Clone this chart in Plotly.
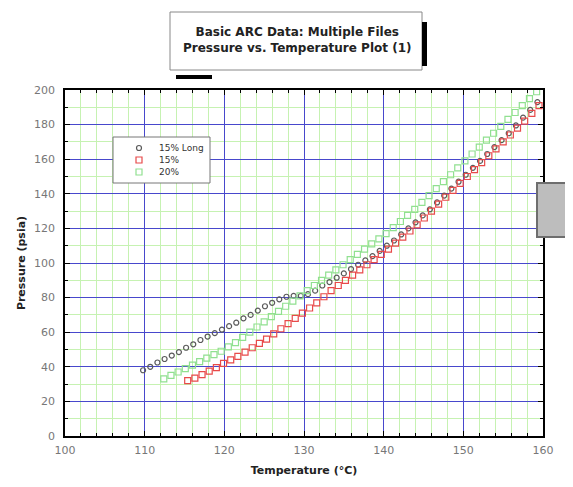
import plotly.graph_objects as go

# ---- data ----
long15_T = [109.8, 110.7, 111.6, 112.5, 113.4, 114.3, 115.2, 116.1, 117.0, 117.9, 118.8, 119.7,
            120.6, 121.5, 122.4, 123.3, 124.2, 125.1, 126.0, 126.9, 127.8, 128.7, 129.6, 130.5,
            131.4, 132.3, 133.2, 134.1, 135.0, 135.9, 136.8, 137.7, 138.6, 139.5, 140.4, 141.3,
            142.2, 143.1, 144.0, 144.9, 145.8, 146.7, 147.6, 148.5, 149.4, 150.3, 151.2, 152.1,
            153.0, 153.9, 154.8, 155.7, 156.6, 157.5, 158.4, 159.3, 160.2, 160.6]
long15_P = [38, 40, 42.5, 44.5, 46.5, 48.5, 51, 53, 55.5, 57.5, 59.5, 61.5,
            63.5, 65.5, 68, 70, 72.5, 75, 77, 79, 80.5, 81, 81, 82,
            84, 87, 89, 91.5, 94, 96.5, 99, 101.5, 104, 107, 110, 113,
            116.5, 120, 123.5, 127.5, 131, 135, 139, 143, 147, 151, 155, 159,
            163, 167, 171, 175, 179.5, 184, 188.5, 193, 197.5, 209]

p15_T = [115.4, 116.3, 117.2, 118.1, 119.0, 119.9, 120.8, 121.7, 122.6, 123.5, 124.4, 125.3,
         126.2, 127.1, 128.0, 128.9, 129.8, 130.7, 131.6, 132.5, 133.4, 134.3, 135.2, 136.1,
         137.0, 137.9, 138.8, 139.7, 140.6, 141.5, 142.4, 143.3, 144.2, 145.1, 146.0, 146.9,
         147.8, 148.7, 149.6, 150.5, 151.4, 152.3, 153.2, 154.1, 155.0, 155.9, 156.8, 157.7,
         158.6, 159.5, 160.4]
p15_P = [32, 33.5, 35.5, 37.5, 39.5, 42, 44, 46, 48.5, 51, 53.5, 56,
         59, 62, 65, 68, 71, 74, 77, 80.5, 84, 87, 90, 93,
         96, 99, 102, 105, 108, 111.5, 115, 118.5, 122, 126, 130, 134,
         138, 142, 146, 150, 154, 158, 162, 166, 170, 174, 178, 182,
         186.5, 191, 196]

p20_T = [112.4, 113.3, 114.2, 115.1, 116.0, 116.9, 117.8, 118.7, 119.6, 120.5, 121.4, 122.3,
         123.2, 124.1, 125.0, 125.9, 126.8, 127.7, 128.6, 129.5, 130.4, 131.3, 132.2, 133.1,
         134.0, 134.9, 135.8, 136.7, 137.6, 138.5, 139.4, 140.3, 141.2, 142.1, 143.0, 143.9,
         144.8, 145.7, 146.6, 147.5, 148.4, 149.3, 150.2, 151.1, 152.0, 152.9, 153.8, 154.7,
         155.6, 156.5, 157.4, 158.3, 159.2, 159.9]
p20_P = [33, 35, 37, 39, 41, 43, 45, 47, 49, 51.5, 54, 57,
         60, 63, 66, 69, 72, 75, 78, 81, 84, 87, 90, 93,
         96, 99, 102, 105, 108, 111, 114, 117, 120.5, 124, 127.5, 131,
         135, 139, 143, 147, 151, 155, 159, 163, 167, 171, 175, 179,
         183, 187, 191, 195, 199, 203]

series_names = ["15% Long", "15%", "20%"]
series_colors = ["#5a5a5a", "#e84a4a", "#90e090"]
x_ticks = [100, 110, 120, 130, 140, 150, 160]
y_ticks = [0, 20, 40, 60, 80, 100, 120, 140, 160, 180, 200]

FONT = "DejaVu Sans, Verdana, sans-serif"
MAJOR = "#4848cc"
MINOR = "#c6f2b2"

fig = go.Figure()
fig.add_trace(go.Scatter(x=long15_T, y=long15_P, mode="markers", name=series_names[0],
                         cliponaxis=False,
                         marker=dict(symbol="circle-open", size=5, color=series_colors[0],
                                     line=dict(width=1.2, color=series_colors[0]))))
fig.add_trace(go.Scatter(x=p15_T, y=p15_P, mode="markers", name=series_names[1],
                         cliponaxis=False,
                         marker=dict(symbol="square-open", size=6, color=series_colors[1],
                                     line=dict(width=1.2, color=series_colors[1]))))
fig.add_trace(go.Scatter(x=p20_T, y=p20_P, mode="markers", name=series_names[2],
                         cliponaxis=False,
                         marker=dict(symbol="square-open", size=6, color=series_colors[2],
                                     line=dict(width=1.2, color=series_colors[2]))))

axis_common = dict(
    showline=True, linecolor="black", linewidth=1.5, mirror="allticks",
    ticks="inside", ticklen=5, tickcolor="black", tickwidth=1,
    showgrid=True, gridcolor=MAJOR, gridwidth=1.2, zeroline=False,
    automargin=False,
    tickfont=dict(family=FONT, size=11, color="#777777"),
)

fig.update_xaxes(**axis_common, range=[100, 160], tickvals=x_ticks,
                 ticktext=[str(v) for v in x_ticks],
                 minor=dict(dtick=2, showgrid=True, gridcolor=MINOR, gridwidth=1,
                            ticks="inside", ticklen=3, tickcolor="black"),
                 ticklabelstandoff=3,
                 title=dict(text="<b>Temperature (°C)</b>", standoff=10,
                            font=dict(family=FONT, size=11, color="#222222")))
fig.update_yaxes(**axis_common, range=[0, 200], tickvals=y_ticks,
                 ticktext=[str(v) for v in y_ticks],
                 minor=dict(dtick=10, showgrid=True, gridcolor=MINOR, gridwidth=1,
                            ticks="inside", ticklen=3, tickcolor="black"),
                 ticklabelstandoff=6,
                 title=dict(text="<b>Pressure (psia)</b>", standoff=6,
                            font=dict(family=FONT, size=11, color="#222222")))

# page body has an 8px margin: figure pixel = reference pixel - 8
OFF = 8
W, H = 557, 471
L, T = 65 - OFF, 90 - OFF
R, B = W - (543 - OFF), H - (436 - OFF)
PW, PH = W - L - R, H - T - B

def fx(xp):
    return (xp - OFF - L) / PW

def fy(yp):
    return (H - B - (yp - OFF)) / PH

shapes = [
    # title box
    dict(type="rect", xref="paper", yref="paper", x0=fx(170), x1=fx(422), y0=fy(70), y1=fy(12),
         line=dict(color="#888888", width=1), fillcolor="white"),
    # shadow bars
    dict(type="rect", xref="paper", yref="paper", x0=fx(422), x1=fx(427), y0=fy(66), y1=fy(22),
         line=dict(width=0), fillcolor="black"),
    dict(type="rect", xref="paper", yref="paper", x0=fx(176), x1=fx(212), y0=fy(79), y1=fy(75),
         line=dict(width=0), fillcolor="black"),
    # grey block on the right
    dict(type="rect", xref="paper", yref="paper", x0=fx(537), x1=fx(580), y0=fy(237), y1=fy(183),
         line=dict(color="#6e6e6e", width=2), fillcolor="#bdbdbd"),
    # legend box
    dict(type="rect", xref="paper", yref="paper", x0=fx(113), x1=fx(210), y0=fy(183), y1=fy(137),
         line=dict(color="#777777", width=1), fillcolor="white"),
]

annotations = [
    dict(xref="paper", yref="paper", x=fx(297), y=fy(40),
         text="<b>Basic ARC Data: Multiple Files</b><br><b>Pressure vs. Temperature Plot (1)</b>",
         showarrow=False, font=dict(family=FONT, size=12, color="#222222"),
         xanchor="center", yanchor="middle"),
]

# manual legend (compact, like the reference)
legend_rows = [148, 160, 172]
mx = 139
for i, (name, col, yy) in enumerate(zip(series_names, series_colors, legend_rows)):
    if i == 0:
        shapes.append(dict(type="circle", xref="paper", yref="paper",
                           x0=fx(mx - 2.5), x1=fx(mx + 2.5), y0=fy(yy + 2.5), y1=fy(yy - 2.5),
                           line=dict(color=col, width=1.2)))
    else:
        shapes.append(dict(type="rect", xref="paper", yref="paper",
                           x0=fx(mx - 3), x1=fx(mx + 3), y0=fy(yy + 3), y1=fy(yy - 3),
                           line=dict(color=col, width=1.2)))
    annotations.append(dict(xref="paper", yref="paper", x=fx(157), y=fy(yy), text=name,
                            showarrow=False, xanchor="left", yanchor="middle",
                            font=dict(family=FONT, size=9, color="#333333")))

fig.update_layout(
    width=W, height=H,
    margin=dict(l=L, r=R, t=T, b=B, autoexpand=False),
    paper_bgcolor="white", plot_bgcolor="white",
    font=dict(family=FONT, color="#333333"),
    showlegend=False,
    shapes=shapes,
    annotations=annotations,
)

fig.write_html("out.html")
